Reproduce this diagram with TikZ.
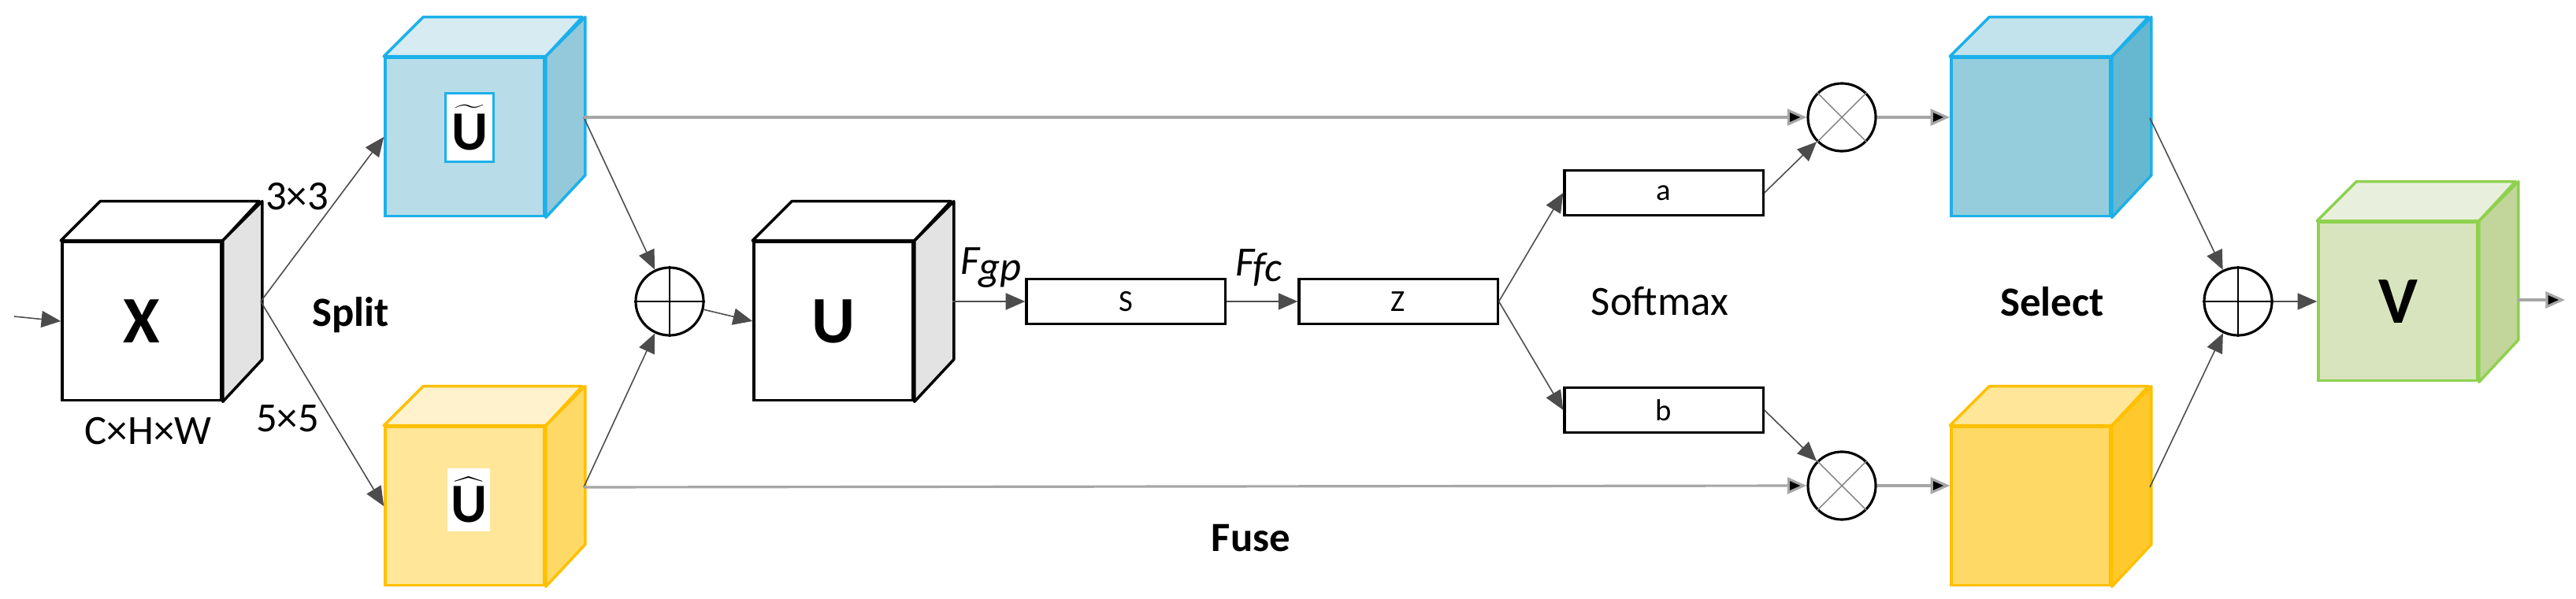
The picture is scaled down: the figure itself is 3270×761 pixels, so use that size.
\documentclass[tikz,border=0pt]{standalone}
\usepackage{fontspec}
\setmainfont{Carlito}
\usetikzlibrary{arrows.meta}
\definecolor{bluebd}{HTML}{1CB0EA}
\definecolor{yelbd}{HTML}{FFC000}
\definecolor{grnbd}{HTML}{8FD14F}
\definecolor{sidegray}{HTML}{E3E3E3}
\definecolor{b1front}{HTML}{B8DDE8}
\definecolor{b1top}{HTML}{D6EBF2}
\definecolor{b1side}{HTML}{93C9DA}
\definecolor{b2front}{HTML}{96CDDC}
\definecolor{b2top}{HTML}{C3E3EC}
\definecolor{b2side}{HTML}{66B8D0}
\definecolor{y1front}{HTML}{FFE699}
\definecolor{y1top}{HTML}{FFF2CC}
\definecolor{y1side}{HTML}{FFD966}
\definecolor{y2front}{HTML}{FFD966}
\definecolor{y2top}{HTML}{FFE699}
\definecolor{y2side}{HTML}{FFC92E}
\definecolor{gfront}{HTML}{D7E4BE}
\definecolor{gtop}{HTML}{E9EFDD}
\definecolor{gside}{HTML}{C2D69B}
\tikzset{
  conn/.style={line width=0.45pt, draw=black!70},
  arr/.style={conn, -{Triangle[length=7pt,width=6pt]}},
  grayline/.style={line width=0.9pt, draw=black!35},
  garr/.style={grayline, -{Triangle[length=7pt,width=6pt,fill=black]}},
  vec/.style={draw, line width=0.9pt, fill=white, minimum width=2.52cm, minimum height=0.57cm, inner sep=0pt, font=\fontsize{11}{11}\selectfont},
  opc/.style={draw, line width=0.9pt, circle, minimum size=0.86cm, inner sep=0pt},
  lbl/.style={font=\fontsize{15}{15}\selectfont},
  blbl/.style={font=\fontsize{15}{15}\selectfont\bfseries},
}
% cube (202 x 201, depth 50): name, cx, cy, front, top, side, border, label
\newcommand\mycube[8]{%
  \node[draw=#7, line width=1pt, fill=#4, minimum width=2.02cm, minimum height=2.01cm, inner sep=0pt] (#1) at (#2,#3) {#8};
  \draw[draw=#7, line width=1pt, fill=#5, line join=round] (#1.north west) -- ++(50,-50) -- ++(202,0) -- (#1.north east) -- cycle;
  \draw[draw=#7, line width=1pt, fill=#6, line join=round] (#1.north east) -- ++(50,-50) -- ++(0,201) -- (#1.south east) -- cycle;
}
\begin{document}
\begin{tikzpicture}[x=0.01cm, y=-0.01cm]
\useasboundingbox (0,0) rectangle (3270,761);
% cubes
\mycube{X}{180}{408}{white}{white}{sidegray}{black}{\fontsize{24}{24}\selectfont\bfseries X}
\mycube{Ut}{590}{174}{b1front}{b1top}{b1side}{bluebd}{}
\mycube{Uh}{590}{643}{y1front}{y1top}{y1side}{yelbd}{}
\mycube{U}{1058}{408}{white}{white}{sidegray}{black}{\fontsize{24}{24}\selectfont\bfseries U}
\mycube{Bl}{2578}{174}{b2front}{b2top}{b2side}{bluebd}{}
\mycube{Ye}{2578}{643}{y2front}{y2top}{y2side}{yelbd}{}
\mycube{V}{3044}{383}{gfront}{gtop}{gside}{grnbd}{\fontsize{24}{24}\selectfont\bfseries V}
% labels on the split cubes
\node[draw=bluebd, fill=white, line width=0.6pt, minimum width=0.61cm, minimum height=0.87cm, inner sep=0pt] (lt) at (596,162) {\fontsize{20}{20}\selectfont$\widetilde{\mathbf{U}}$};
\node[draw=white, fill=white, minimum width=0.53cm, minimum height=0.78cm, inner sep=0pt] (lh) at (595,635) {\fontsize{20}{20}\selectfont$\widehat{\mathbf{U}}$};
% vectors and operators
\node[vec] (S) at (1429,383) {S};
\node[vec] (Z) at (1775,383) {Z};
\node[vec] (a) at (2112,245) {a};
\node[vec] (b) at (2112,521) {b};
\node[opc] (p1) at (850,383) {};
\node[opc] (p2) at (2841,383) {};
\node[opc] (m1) at (2338,149) {};
\node[opc] (m2) at (2338,617) {};
\draw[line width=0.5pt] (p1.north) -- (p1.south) (p1.west) -- (p1.east);
\draw[line width=0.5pt] (p2.north) -- (p2.south) (p2.west) -- (p2.east);
\draw[line width=0.4pt, black!50] (m1.north west) -- (m1.south east) (m1.north east) -- (m1.south west);
\draw[line width=0.4pt, black!50] (m2.north west) -- (m2.south east) (m2.north east) -- (m2.south west);
% connection points
\coordinate (in) at (18,402);
\coordinate (xo) at (331,383);
\coordinate (ut) at (741,149);
\coordinate (ub) at (741,619);
\coordinate (uo) at (1209,383);
\coordinate (bt) at (2729,150);
\coordinate (yb) at (2729,619);
\coordinate (vo) at (3196,381);
\coordinate (out) at (3256,381);
% connectors
\draw[arr] (in) -- (X.west);
\draw[arr] (xo) -- (Ut.west);
\draw[arr] (xo) -- (Uh.west);
\draw[arr] (ut) -- (p1);
\draw[arr] (ub) -- (p1);
\draw[garr] (ut) -- (m1.west);
\draw[garr] (ub) -- (m2.west);
\draw[arr] (p1) -- (U.west);
\draw[arr] (uo) -- (S.west);
\draw[arr] (S.east) -- (Z.west);
\draw[arr] (Z.east) -- (a.west);
\draw[arr] (Z.east) -- (b.west);
\draw[arr] (a.east) -- (m1);
\draw[arr] (b.east) -- (m2);
\draw[garr] (m1.east) -- (m1 -| Bl.west);
\draw[garr] (m2.east) -- (m2 -| Ye.west);
\draw[arr] (bt) -- (p2);
\draw[arr] (yb) -- (p2);
\draw[arr] (p2) -- (V.west);
\draw[garr] (vo) -- (out);
% texts
\node[lbl] (k3) at (377,250) {3×3};
\node[lbl] (k5) at (365,532) {5×5};
\node[lbl] (chw) at (188,548) {C×H×W};
\node[blbl] (split) at (445,400) {Split};
\node[lbl] (fgp) at (1258,340) {\itshape F\kern-0.5pt\raisebox{-0.3ex}{gp}};
\node[lbl] (ffc) at (1598,340) {\itshape F\kern-0.5pt\raisebox{-0.3ex}{fc}};
\node[lbl] (smx) at (2107,383) {Softmax};
\node[blbl] (fuse) at (1588,684) {Fuse};
\node[blbl] (sel) at (2605,383) {Select};
\end{tikzpicture}
\end{document}
